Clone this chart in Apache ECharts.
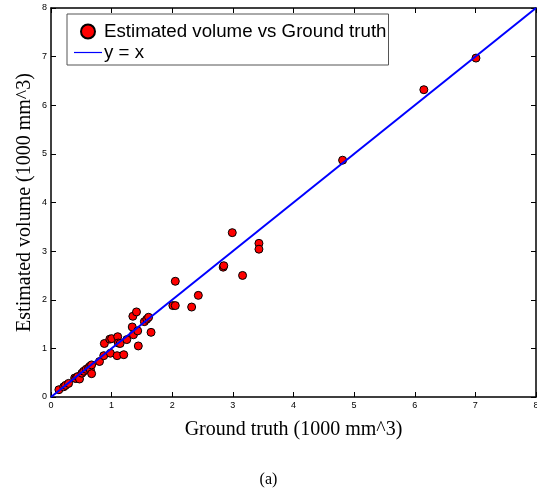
<!DOCTYPE html>
<html>
<head>
<meta charset="utf-8">
<script src="https://cdn.jsdelivr.net/npm/echarts@6/dist/echarts.min.js"></script>
<style>html,body{margin:0;padding:0;background:#fff;}#c{width:537px;height:491px;}</style>
</head>
<body>
<div id="c"></div>
<script>
const groundTruth = [0.13,0.21,0.24,0.29,0.39,0.41,0.44,0.47,0.51,0.54,0.58,0.62,0.64,0.65,0.67,0.67,0.80,0.87,0.88,0.97,0.98,1.00,1.09,1.10,1.11,1.14,1.20,1.25,1.34,1.35,1.36,1.41,1.43,1.44,1.54,1.58,1.61,1.65,2.01,2.05,2.05,2.32,2.43,2.84,2.85,2.99,3.16,3.43,3.43,4.81,6.15,7.01];
const estimated   = [0.15,0.21,0.24,0.28,0.39,0.38,0.42,0.37,0.49,0.53,0.57,0.60,0.63,0.56,0.66,0.48,0.73,0.85,1.10,1.19,0.90,1.20,0.85,1.24,1.11,1.10,0.87,1.18,1.44,1.66,1.28,1.75,1.36,1.05,1.55,1.60,1.64,1.33,1.88,1.88,2.38,1.85,2.09,2.67,2.70,3.38,2.50,3.16,3.04,4.87,6.32,6.97];
const lineX = [0, 8];
const lineY = [0, 8];
const ticks = [0,1,2,3,4,5,6,7,8];

const scatterData = groundTruth.map((v,i)=>[v, estimated[i]]);
const lineData = lineX.map((v,i)=>[v, lineY[i]]);

const axisCommon = {
  type: 'value', min: 0, max: 8, interval: 1,
  axisLine: {show: true, onZero: false, lineStyle: {color: '#000', width: 1.5}},
  axisTick: {show: true, inside: true, length: 5, lineStyle: {color: '#000', width: 1}},
  splitLine: {show: false}
};
const chart = echarts.init(document.getElementById('c'));
chart.setOption({
  animation: false,
  backgroundColor: '#fff',
  grid: {left: 51, right: 1, top: 8, bottom: 94, containLabel: false, outerBoundsMode: 'none'},
  title: {
    text: '(a)', left: 'center', top: 467,
    textStyle: {fontFamily: 'Liberation Serif', fontSize: 16, fontWeight: 'normal', color: '#000'}
  },
  legend: {
    orient: 'vertical', left: 67, top: 14,
    backgroundColor: '#fff', borderColor: '#555', borderWidth: 1,
    padding: [8, 2, 3, 7], itemGap: 2, itemWidth: 28, itemHeight: 14,
    textStyle: {fontFamily: 'Liberation Sans', fontSize: 18.7, color: '#000', padding: [0,0,0,-3]},
    data: [
      {name: 'Estimated volume vs Ground truth'},
      {name: 'y = x', icon: 'path://M0,0 M28,14 M0,6.4 L28,6.4 L28,7.6 L0,7.6 Z', itemStyle: {color: '#0000ff', borderWidth: 0}}
    ]
  },
  xAxis: [
    Object.assign({}, axisCommon, {
      position: 'bottom',
      name: 'Ground truth (1000 mm^3)', nameLocation: 'middle', nameGap: 23,
      nameTextStyle: {fontFamily: 'Liberation Serif', fontSize: 20, color: '#000'},
      axisLabel: {fontFamily: 'Liberation Sans', fontSize: 9, color: '#000', margin: 4,
        formatter: v => ticks.includes(v) ? String(v) : ''}
    }),
    Object.assign({}, axisCommon, {position: 'top', axisLabel: {show: false}})
  ],
  yAxis: [
    Object.assign({}, axisCommon, {
      position: 'left',
      name: 'Estimated volume (1000 mm^3)', nameLocation: 'middle', nameGap: 16,
      nameMoveOverlap: false,
      nameTextStyle: {fontFamily: 'Liberation Serif', fontSize: 20, color: '#000'},
      axisLabel: {fontFamily: 'Liberation Sans', fontSize: 9, color: '#000', margin: 4,
        formatter: v => ticks.includes(v) ? String(v) : ''}
    }),
    Object.assign({}, axisCommon, {position: 'right', axisLabel: {show: false}})
  ],
  series: [
    {
      name: 'Estimated volume vs Ground truth', type: 'scatter',
      data: scatterData, symbol: 'circle', symbolSize: 8,
      itemStyle: {color: '#ff0000', borderColor: '#000', borderWidth: 1, opacity: 1},
      z: 3
    },
    {
      name: 'y = x', type: 'line', data: lineData, symbol: 'none',
      lineStyle: {color: '#0000ff', width: 2}, itemStyle: {color: '#0000ff'},
      z: 4
    }
  ]
});
</script>
</body>
</html>
